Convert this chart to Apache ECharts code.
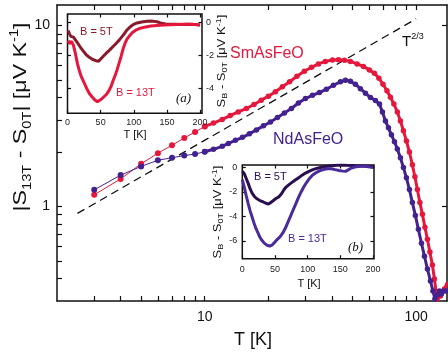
<!DOCTYPE html>
<html>
<head>
<meta charset="utf-8">
<script src="https://cdn.jsdelivr.net/npm/echarts@6/dist/echarts.min.js"></script>
<style>
  html, body { margin: 0; padding: 0; background: #fff; }
  #chart { width: 448px; height: 354px; }
</style>
</head>
<body>
<div id="chart"></div>
<script>
// main panel: |S13T - S0T| vs T, log-log
const smT = [3, 4, 5, 6, 7, 8, 9, 10, 11, 12.1, 13.2, 14.4, 15.75, 17.1, 18.5, 20, 21.6, 23.3, 25.2, 27.3, 29.6, 32, 34.5, 37.2, 40.2, 42.9, 45.8, 48.9, 52.6, 56.3, 60.1, 63.5, 66.7, 69.7, 72.8, 75.6, 78.5, 81.5, 84.3, 87.1, 90, 93, 96, 98.7, 101.4, 104.2, 107.1, 110.1, 113.1, 116.2, 119.4, 122.1, 124.3, 125.7, 130.3, 136.1, 140.6];
const smS = [1.16, 1.42, 1.72, 1.97, 2.18, 2.39, 2.58, 2.77, 2.89, 3.03, 3.18, 3.33, 3.48, 3.66, 3.87, 4.07, 4.31, 4.59, 4.89, 5.25, 5.59, 5.88, 6.14, 6.34, 6.46, 6.48, 6.44, 6.34, 6.14, 5.95, 5.69, 5.45, 5.11, 4.74, 4.36, 4.02, 3.68, 3.33, 2.97, 2.62, 2.3, 2.0, 1.7, 1.46, 1.24, 1.05, 0.904, 0.767, 0.659, 0.559, 0.474, 0.397, 0.337, 0.308, 0.32, 0.35, 0.382];
const ndT = [3, 4, 5, 6, 7, 8, 9, 10, 11, 12.1, 12.94, 13.97, 15.08, 16.27, 17.56, 18.96, 20.46, 22.08, 23.82, 25.71, 27.75, 29.95, 32.32, 34.88, 37.64, 40.62, 43.85, 46.3, 48.9, 51.6, 54.5, 57.6, 60.8, 64.2, 67.1, 69.3, 71.6, 74, 76.4, 79, 81.5, 84.3, 87.1, 90, 93, 96, 99.2, 102.5, 106, 109.5, 113.1, 116.9, 120.1, 122.7, 126.1, 128.9, 131.7, 134.6, 138.4, 140.6];
const ndS = [1.235, 1.49, 1.665, 1.8, 1.86, 1.91, 1.95, 2.005, 2.07, 2.15, 2.23, 2.32, 2.41, 2.52, 2.65, 2.79, 2.93, 3.1, 3.29, 3.48, 3.73, 3.95, 4.12, 4.26, 4.45, 4.68, 4.89, 4.99, 4.92, 4.74, 4.48, 4.23, 4.0, 3.85, 3.68, 3.33, 2.97, 2.72, 2.49, 2.28, 2.08, 1.86, 1.64, 1.44, 1.24, 1.05, 0.892, 0.748, 0.626, 0.531, 0.451, 0.387, 0.341, 0.308, 0.324, 0.341, 0.328, 0.341, 0.341, 0.35];
const sparseCount = 8; // T = 3..10 drawn as separate dots with thin joins
const powT = [2.5, 100];
const powS = [0.915, 10.9];

const xMajor = [10, 100];
const xMinor = [3, 4, 5, 6, 7, 8, 9, 20, 30, 40, 50, 60, 70, 80, 90];
const yMajor = [1, 10];
const yMinor = [0.4, 0.5, 0.6, 0.7, 0.8, 0.9, 2, 3, 4, 5, 6, 7, 8, 9];

// inset (a): SmAsFeO, S_B - S_0T vs T
const aT5 = [1, 3, 5, 7, 9, 11, 13, 16, 19, 23, 28, 33, 38, 43, 47, 50, 54, 59, 63, 66, 70, 74, 78, 82, 86, 89, 94, 99, 105, 112, 120, 128, 135, 140, 148, 155, 163, 173, 183, 192, 200];
const aS5 = [-0.5, -0.7, -0.85, -0.82, -0.9, -1.0, -1.12, -1.3, -1.48, -1.7, -1.95, -2.12, -2.25, -2.32, -2.36, -2.25, -2.05, -1.85, -1.7, -1.58, -1.42, -1.25, -1.08, -0.88, -0.68, -0.5, -0.3, -0.14, -0.04, 0.02, 0.06, 0.07, 0.03, -0.04, -0.1, -0.12, -0.12, -0.13, -0.12, -0.14, -0.16];
const aT13 = [1, 3, 6, 9, 12, 15, 18, 21, 25, 29, 33, 37, 41, 45, 48, 51, 55, 59, 63, 66, 69, 72, 75, 78, 81, 84, 87, 90, 94, 98, 103, 110, 118, 126, 135, 145, 155, 165, 175, 185, 193, 200];
const aS13 = [-1.1, -1.3, -1.15, -1.4, -1.9, -2.5, -2.95, -3.3, -3.65, -4.0, -4.3, -4.5, -4.68, -4.8, -4.78, -4.65, -4.5, -4.35, -4.1, -3.85, -3.5, -3.2, -2.85, -2.45, -2.05, -1.6, -1.25, -1.0, -0.8, -0.62, -0.48, -0.36, -0.28, -0.22, -0.19, -0.17, -0.15, -0.13, -0.12, -0.12, -0.13, -0.16];

// inset (b): NdAsFeO
const bT5 = [0, 3, 6, 9, 12, 15, 19, 23, 27, 32, 36, 40, 44, 48, 52, 56, 60, 64, 67, 71, 76, 81, 86, 91, 96, 102, 108, 115, 122, 130, 137, 144, 152, 160, 168, 176, 185, 193, 200];
const bS5 = [-0.3, -0.5, -0.9, -1.3, -1.75, -2.1, -2.4, -2.58, -2.7, -2.82, -2.92, -2.98, -2.85, -2.68, -2.52, -2.4, -2.15, -1.8, -1.6, -1.42, -1.22, -1.02, -0.85, -0.65, -0.48, -0.32, -0.18, -0.06, 0.03, 0.1, 0.14, 0.17, 0.2, 0.17, 0.15, 0.12, 0.12, 0.1, 0.06];
const bT13 = [0, 3, 6, 9, 12, 15, 18, 21, 24, 27, 30, 34, 38, 42, 46, 50, 54, 58, 62, 66, 70, 74, 78, 82, 86, 90, 94, 98, 102, 107, 112, 118, 124, 130, 136, 142, 148, 154, 158, 162, 166, 172, 180, 188, 195, 200];
const bS13 = [-1.0, -1.6, -2.3, -2.95, -3.55, -4.05, -4.55, -5.0, -5.35, -5.7, -5.95, -6.2, -6.35, -6.42, -6.32, -6.08, -5.85, -5.65, -5.35, -4.95, -4.45, -3.95, -3.45, -2.95, -2.45, -2.0, -1.6, -1.25, -0.95, -0.65, -0.45, -0.28, -0.17, -0.1, -0.1, -0.18, -0.25, -0.3, -0.32, -0.2, -0.06, 0.03, 0.1, 0.1, 0.04, 0.0];

const insetXTicks = [0, 50, 100, 150, 200];
const insetAYTicks = [-4, -2, 0];
const insetBYTicks = [-6, -4, -2, 0];

const RED = '#e5173c';
const PURPLE = '#43228f';
const DARKRED = '#8a1a2a';
const DARKPURPLE = '#2a0f4e';
const INK = '#111';
const FONT = '"Liberation Sans", Arial, sans-serif';

const lg = Math.log10;
const logPairs = (ts, ss) => ts.map((t, i) => [lg(t), lg(ss[i])]);
const pairs = (ts, ss) => ts.map((t, i) => [t, ss[i]]);

const chart = echarts.init(document.getElementById('chart'), null, { renderer: 'canvas' });

const tickStyle = { show: true, inside: true, length: 5, lineStyle: { color: INK, width: 1.2 } };
const lineStyleAxis = { show: true, onZero: false, lineStyle: { color: INK, width: 1.5 } };

function logAxis(pos, min, max, ticks, labels, showLabels) {
  return {
    type: 'value', position: pos, min: lg(min), max: lg(max),
    axisLine: lineStyleAxis,
    axisTick: Object.assign({}, tickStyle, { customValues: ticks.map(lg) }),
    axisLabel: showLabels
      ? { show: true, customValues: labels.map(lg), margin: pos === 'left' ? 7 : 9, fontSize: 14, color: INK, fontFamily: FONT,
          formatter: v => String(Math.round(Math.pow(10, v))) }
      : { show: false },
    splitLine: { show: false }
  };
}

function insetAxis(pos, grid, min, max, ticks, showLabels, margin) {
  return {
    type: 'value', gridIndex: grid, position: pos, min, max, z: 6,
    axisLine: { show: false, onZero: false },
    axisTick: Object.assign({}, tickStyle, { length: 3.5, customValues: ticks }),
    axisLabel: showLabels
      ? { show: true, customValues: ticks, margin, fontSize: 9, color: '#222', fontFamily: FONT }
      : { show: false },
    splitLine: { show: false }
  };
}

const allXTicks = xMinor.concat(xMajor);
const allYTicks = yMinor.concat(yMajor);

const smData = logPairs(smT, smS);
const ndData = logPairs(ndT, ndS);

function rich(size, sub) {
  return {
    n: { fontSize: size, fontFamily: FONT, fill: INK, lineHeight: size * 1.3, verticalAlign: 'middle' },
    s: { fontSize: sub, fontFamily: FONT, fill: INK, lineHeight: sub, verticalAlign: 'bottom' },
    p: { fontSize: sub, fontFamily: FONT, fill: INK, lineHeight: sub, verticalAlign: 'top' }
  };
}

function txt(x, y, text, opts) {
  return {
    type: 'text', x, y, z: 100,
    style: Object.assign({ text, fontSize: 11, fontFamily: FONT, fill: INK, align: 'left', verticalAlign: 'middle' }, opts || {})
  };
}

chart.setOption({
  animation: false,
  backgroundColor: '#fff',
  grid: [
    { left: 57, top: 5, width: 390, height: 296 },
    { left: 67.5, top: 14, width: 134.5, height: 99.3, show: true, backgroundColor: '#fff', borderColor: INK, borderWidth: 1.5, z: 5 },
    { left: 242.3, top: 165, width: 131.7, height: 93.7, show: true, backgroundColor: '#fff', borderColor: INK, borderWidth: 1.5, z: 5 }
  ],
  xAxis: [
    logAxis('bottom', 2, 140, allXTicks, xMajor, true),
    logAxis('top', 2, 140, allXTicks, xMajor, false),
    insetAxis('bottom', 1, 0, 203, insetXTicks, true, 5),
    insetAxis('top', 1, 0, 203, insetXTicks, false),
    insetAxis('bottom', 2, 0, 201.5, insetXTicks, true, 6),
    insetAxis('top', 2, 0, 201.5, insetXTicks, false)
  ],
  yAxis: [
    logAxis('left', 0.3, 13, allYTicks, yMajor, true),
    logAxis('right', 0.3, 13, yMajor, yMajor, false),
    insetAxis('right', 1, -5.5, 0.5, insetAYTicks, true, 4),
    insetAxis('left', 1, -5.5, 0.5, insetAYTicks, false),
    insetAxis('left', 2, -7.45, 0.2, insetBYTicks, true, 5),
    insetAxis('right', 2, -7.45, 0.2, insetBYTicks, false)
  ],
  series: [
    { name: 'T^2/3', type: 'line', xAxisIndex: 0, yAxisIndex: 0, data: logPairs(powT, powS), showSymbol: false, silent: true,
      lineStyle: { color: INK, width: 1.3, type: [8, 5] } },
    { name: 'SmAsFeO low', type: 'line', xAxisIndex: 0, yAxisIndex: 0, data: smData.slice(0, sparseCount), symbol: 'circle', symbolSize: 6,
      itemStyle: { color: RED }, lineStyle: { color: RED, width: 1 } },
    { name: 'SmAsFeO', type: 'line', xAxisIndex: 0, yAxisIndex: 0, data: smData.slice(sparseCount - 1), symbol: 'circle', symbolSize: 5.5,
      itemStyle: { color: RED }, lineStyle: { color: RED, width: 3 } },
    { name: 'NdAsFeO low', type: 'line', xAxisIndex: 0, yAxisIndex: 0, data: ndData.slice(0, sparseCount), symbol: 'circle', symbolSize: 6,
      itemStyle: { color: PURPLE }, lineStyle: { color: PURPLE, width: 1 } },
    { name: 'NdAsFeO', type: 'line', xAxisIndex: 0, yAxisIndex: 0, data: ndData.slice(sparseCount - 1), symbol: 'circle', symbolSize: 5.5,
      itemStyle: { color: PURPLE }, lineStyle: { color: PURPLE, width: 3 } },
    { name: 'a 5T', type: 'line', xAxisIndex: 2, yAxisIndex: 2, data: pairs(aT5, aS5), showSymbol: false, z: 10,
      lineStyle: { color: DARKRED, width: 3 } },
    { name: 'a 13T', type: 'line', xAxisIndex: 2, yAxisIndex: 2, data: pairs(aT13, aS13), showSymbol: false, z: 10,
      lineStyle: { color: RED, width: 3 } },
    { name: 'b 5T', type: 'line', xAxisIndex: 4, yAxisIndex: 4, data: pairs(bT5, bS5), showSymbol: false, z: 10,
      lineStyle: { color: DARKPURPLE, width: 3 } },
    { name: 'b 13T', type: 'line', xAxisIndex: 4, yAxisIndex: 4, data: pairs(bT13, bS13), showSymbol: false, z: 10,
      lineStyle: { color: '#4b2a9c', width: 3 } }
  ],
  graphic: [
    // main axis names
    txt(253, 340, 'T [K]', { fontSize: 18, align: 'center' }),
    { type: 'text', x: 21, y: 117, rotation: Math.PI / 2, scaleX: 1.22, z: 100,
      style: { text: '{n||S}{s|13T}{n| - S}{s|0T}{n|| [μV K}{p|-1}{n|]}', rich: rich(19, 12), align: 'center', verticalAlign: 'middle' } },
    // series labels
    txt(230, 54, 'SmAsFeO', { fontSize: 16, fill: RED }),
    txt(273, 140, 'NdAsFeO', { fontSize: 16, fill: PURPLE }),
    { type: 'text', x: 402, y: 42, z: 100,
      style: { text: '{n|T}{p|2/3}', rich: rich(15, 9), align: 'left', verticalAlign: 'middle' } },
    // inset (a)
    txt(80, 32, 'B = 5T', { fill: DARKRED }),
    txt(116, 93, 'B = 13T', { fill: RED }),
    txt(176, 99, '(a)', { fontSize: 13, fontStyle: 'italic', fontFamily: '"Liberation Serif", serif' }),
    txt(135, 135, 'T [K]', { align: 'center' }),
    { type: 'text', x: 222, y: 61, rotation: Math.PI / 2, scaleX: 1.3, z: 100,
      style: { text: '{n|S}{s|B}{n| - S}{s|0T}{n| [μV K}{p|-1}{n|]}', rich: rich(10, 7), align: 'center', verticalAlign: 'middle' } },
    // inset (b)
    txt(254, 177, 'B = 5T', { fill: DARKPURPLE }),
    txt(288, 239, 'B = 13T', { fill: '#4b2a9c' }),
    txt(348, 248, '(b)', { fontSize: 13, fontStyle: 'italic', fontFamily: '"Liberation Serif", serif' }),
    txt(309, 284, 'T [K]', { align: 'center' }),
    { type: 'text', x: 218, y: 212, rotation: Math.PI / 2, scaleX: 1.3, z: 100,
      style: { text: '{n|S}{s|B}{n| - S}{s|0T}{n| [μV K}{p|-1}{n|]}', rich: rich(10, 7), align: 'center', verticalAlign: 'middle' } }
  ]
});
</script>
</body>
</html>
